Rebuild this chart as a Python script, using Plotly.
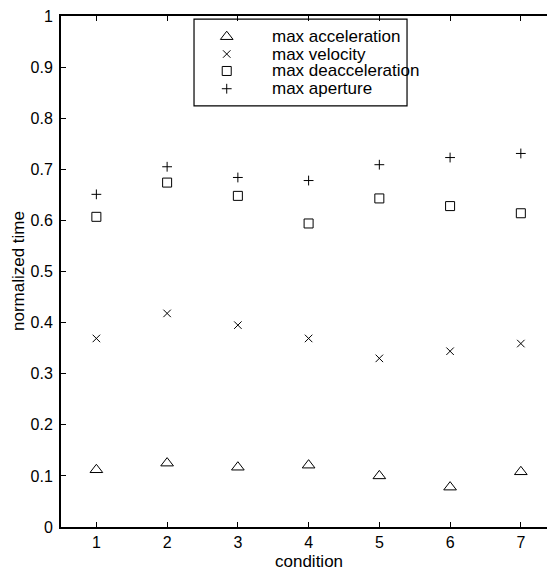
import plotly.graph_objects as go

conditions = [1, 2, 3, 4, 5, 6, 7]
max_acceleration = [0.112, 0.125, 0.117, 0.121, 0.100, 0.078, 0.108]
max_velocity = [0.369, 0.418, 0.395, 0.369, 0.330, 0.344, 0.359]
max_deacceleration = [0.607, 0.674, 0.648, 0.594, 0.643, 0.628, 0.614]
max_aperture = [0.651, 0.705, 0.684, 0.678, 0.709, 0.723, 0.731]
series_names = ["max acceleration", "max velocity", "max deacceleration", "max aperture"]
x_ticks = [1, 2, 3, 4, 5, 6, 7]
y_ticks = [0, 0.1, 0.2, 0.3, 0.4, 0.5, 0.6, 0.7, 0.8, 0.9, 1]
y_tick_text = ["0", "0.1", "0.2", "0.3", "0.4", "0.5", "0.6", "0.7", "0.8", "0.9", "1"]

FONT = "Liberation Sans"
symbols = ["triangle-up-open", "x-thin-open", "square-open", "cross-thin-open"]
sizes = [11, 7.5, 9, 7]
series = [max_acceleration, max_velocity, max_deacceleration, max_aperture]

fig = go.Figure()
for vals, sym, sz, name in zip(series, symbols, sizes, series_names):
    fig.add_trace(go.Scatter(
        x=conditions, y=vals, mode="markers", name=name, showlegend=False,
        marker=dict(symbol=sym, size=sz, color="black",
                    line=dict(color="black", width=1)),
    ))

# manual legend (MATLAB style box)
leg_x0, leg_x1, leg_y0, leg_y1 = 0.2737, 0.712, 0.824, 0.994
leg_sym_x = 0.341
leg_txt_x = 0.430
leg_rows = [0.9595, 0.9256, 0.8924, 0.8577]
for sym, sz, name, ry in zip(symbols, sizes, series_names, leg_rows):
    fig.add_trace(go.Scatter(
        x=[leg_sym_x], y=[ry], mode="markers", xaxis="x2", yaxis="y2",
        showlegend=False, hoverinfo="skip",
        marker=dict(symbol=sym, size=sz, color="black",
                    line=dict(color="black", width=1)),
    ))
    fig.add_annotation(x=leg_txt_x, y=ry, xref="paper", yref="paper",
                       text=name, showarrow=False, xanchor="left", yanchor="middle",
                       font=dict(family=FONT, size=17, color="black"))
fig.add_shape(type="rect", xref="paper", yref="paper",
              x0=leg_x0, x1=leg_x1, y0=leg_y0, y1=leg_y1,
              line=dict(color="black", width=1.2), fillcolor="rgba(0,0,0,0)", layer="above")

fig.add_annotation(x=4, y=-0.068, xref="x", yref="paper", text="condition",
                   showarrow=False, xanchor="center", yanchor="middle",
                   font=dict(family=FONT, size=17, color="black"))
fig.add_annotation(x=-0.0874, y=0.5, xref="paper", yref="paper", text="normalized time",
                   showarrow=False, textangle=-90, xanchor="center", yanchor="middle",
                   font=dict(family=FONT, size=17, color="black"))

fig.update_layout(
    width=547, height=570,
    margin=dict(l=61, r=0, t=16, b=43),
    plot_bgcolor="white", paper_bgcolor="white",
    font=dict(family=FONT, size=16, color="black"),
    showlegend=False,
    xaxis=dict(range=[0.5, 7.37], tickvals=x_ticks, ticks="inside", ticklen=5,
               tickwidth=1, tickcolor="black", showline=True, linecolor="black",
               linewidth=2, mirror="ticks", showgrid=False, zeroline=False,
               tickfont=dict(family=FONT, size=16, color="black")),
    yaxis=dict(range=[0, 1], tickvals=y_ticks, ticktext=y_tick_text, ticks="inside",
               ticklen=5, tickwidth=1, tickcolor="black", showline=True,
               linecolor="black", linewidth=2, mirror=False, showgrid=False,
               zeroline=False, ticklabelstandoff=3,
               tickfont=dict(family=FONT, size=16, color="black")),
    xaxis2=dict(overlaying="x", range=[0, 1], visible=False, domain=[0, 1]),
    yaxis2=dict(overlaying="y", range=[0, 1], visible=False, anchor="x2"),
)

fig.write_html("out.html", config={"displayModeBar": False},
               post_script="document.body.style.margin='0';document.body.style.overflow='hidden';")
